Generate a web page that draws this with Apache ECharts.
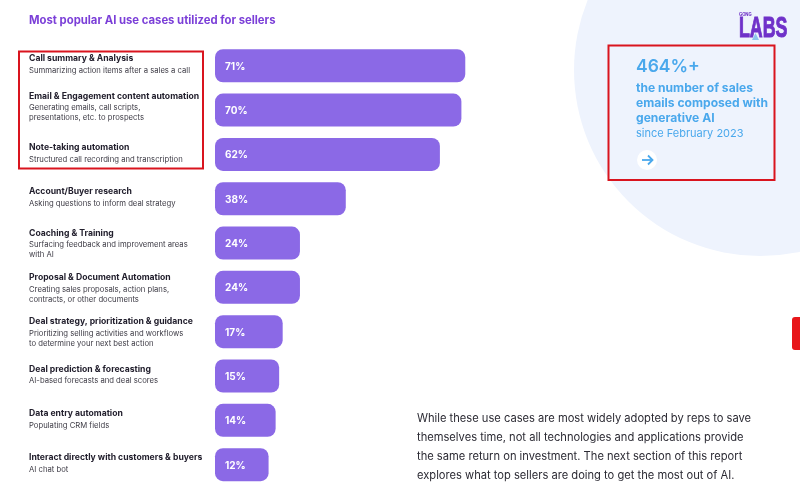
<!DOCTYPE html>
<html>
<head>
<meta charset="utf-8">
<style>html,body{margin:0;padding:0;background:#fff}#c{width:800px;height:492px}</style>
<script src="https://cdn.jsdelivr.net/npm/echarts@6/dist/echarts.min.js"></script>
</head>
<body>
<div id="c"></div>
<script>
const categories = [
  "Call summary & Analysis",
  "Email & Engagement content automation",
  "Note-taking automation",
  "Account/Buyer research",
  "Coaching & Training",
  "Proposal & Document Automation",
  "Deal strategy, prioritization & guidance",
  "Deal prediction & forecasting",
  "Data entry automation",
  "Interact directly with customers & buyers"
];
const descriptions = [
  ["Summarizing action items after a sales a call"],
  ["Generating emails, call scripts,", "presentations, etc. to prospects"],
  ["Structured call recording and transcription"],
  ["Asking questions to inform deal strategy"],
  ["Surfacing feedback and improvement areas", "with AI"],
  ["Creating sales proposals, action plans,", "contracts, or other documents"],
  ["Prioritizing selling activities and workflows", "to determine your next best action"],
  ["AI-based forecasts and deal scores"],
  ["Populating CRM fields"],
  ["AI chat bot"]
];
// The percentages printed on the bars.
const printedPercent = [71, 70, 62, 38, 24, 24, 17, 15, 14, 12];
// The lengths the bars have in the picture, on the same scale. The source
// graphic does not draw its short bars in proportion to their printed figures.
const drawnLength = [71, 69.9, 63.8, 37.1, 24.1, 24.1, 19.2, 18.2, 17.2, 15.2];
const titleText = "Most popular AI use cases utilized for sellers";
const calloutHead = "464%+";
const calloutBold = ["the number of sales", "emails composed with", "generative AI"];
const calloutTail = "since February 2023";
const bodyLines = [
  "While these use cases are most widely adopted by reps to save",
  "themselves time, not all technologies and applications provide",
  "the same return on investment. The next section of this report",
  "explores what top sellers are doing to get the most out of AI."
];

const FONT = "Inter";
const BLUE = "#4aa8ec";
const RED = "#d9141e";
const chart = echarts.init(document.getElementById("c"), null, {renderer: "canvas"});

const txt = (x, y, text, size, weight, fill, extra) => Object.assign({
  type: "text", x, y, z: 5,
  style: {text, fontFamily: FONT, fontSize: size, fontWeight: weight, fill, verticalAlign: "middle"}
}, extra || {});

chart.setOption({
  animation: false,
  backgroundColor: "#fff",
  title: {
    text: titleText, left: 24, top: 10,
    textStyle: {fontFamily: FONT, fontSize: 11.3, fontWeight: 700, color: "#7b3fd8"}
  },
  grid: {left: 215, top: 43.6, width: 352.5, height: 443.2},
  xAxis: {type: "value", min: 0, max: 100, show: false},
  yAxis: {
    type: "category", inverse: true, data: categories,
    axisLine: {show: false}, axisTick: {show: false},
    axisLabel: {
      align: "left", margin: 186, interval: 0,
      formatter: (name, i) => {
        const lines = ["{n|" + name + "}"].concat(descriptions[i].map(l => "{d|" + l + "}"));
        if (i === 1) lines.push("{s8| }");
        else if (descriptions[i].length === 1) lines.push("{s4| }");
        return lines.join("\n");
      },
      rich: {
        n: {fontFamily: FONT, fontSize: 8.65, fontWeight: 700, color: "#23202e", lineHeight: 14, align: "left"},
        d: {fontFamily: FONT, fontSize: 7.7, fontWeight: 400, color: "#3d3b45", lineHeight: 10, align: "left"},
        s4: {fontSize: 1, lineHeight: 4},
        s8: {fontSize: 1, lineHeight: 8}
      }
    }
  },
  series: [{
    type: "bar", data: drawnLength, barWidth: 33,
    itemStyle: {color: "#8b69e6", borderRadius: 8},
    label: {
      show: true, position: "insideLeft", distance: 10, offset: [0, 1],
      formatter: p => printedPercent[p.dataIndex] + "%",
      fontFamily: FONT, fontSize: 10, fontWeight: 700, color: "#fff"
    }
  }],
  graphic: [
    {type: "circle", shape: {cx: 760, cy: 70, r: 186}, style: {fill: "#eef3fd"}, z: 0},
    {type: "rect", shape: {x: 19, y: 51.5, width: 184, height: 117}, style: {fill: "none", stroke: RED, lineWidth: 2}, z: 6},
    {type: "rect", shape: {x: 608.5, y: 45.5, width: 166, height: 134.5}, style: {fill: "none", stroke: RED, lineWidth: 2}, z: 6},
    {type: "rect", shape: {x: 792, y: 317, width: 12, height: 33, r: 3}, style: {fill: "#e8161a"}, z: 6},
    txt(636, 67, calloutHead, 17.5, 600, BLUE),
    txt(636, 88, calloutBold[0], 12.1, 700, BLUE),
    txt(636, 103, calloutBold[1], 12.1, 700, BLUE),
    txt(636, 118.5, calloutBold[2], 12.1, 700, BLUE),
    txt(636, 134, calloutTail, 11, 400, BLUE),
    {type: "circle", shape: {cx: 647, cy: 160, r: 10}, style: {fill: "#fff"}, z: 5},
    {type: "line", shape: {x1: 642, y1: 160, x2: 652, y2: 160}, style: {stroke: BLUE, lineWidth: 1.8}, z: 6},
    {type: "polyline", shape: {points: [[648, 155.5], [652.5, 160], [648, 164.5]]}, style: {stroke: BLUE, lineWidth: 1.8, fill: "none"}, z: 6},
    txt(739, 15, "GONG", 4.2, 700, "#6a2bc4"),
    {type: "text", x: 739, y: 29.5, z: 5, scaleX: 0.89, scaleY: 1.45,
     style: {text: "LABS", fontFamily: "Liberation Sans", fontSize: 20, fontWeight: 700, fill: "#6f31c9", stroke: "#6f31c9", lineWidth: 0.7, verticalAlign: "middle"}},
    {type: "polygon", shape: {points: [[755.5, 33], [759, 40], [752, 40]]}, style: {fill: "#8ec5ec"}, z: 6},
    txt(417, 419, bodyLines[0], 11.15, 400, "#2b2a33"),
    txt(417, 438, bodyLines[1], 11.15, 400, "#2b2a33"),
    txt(417, 457, bodyLines[2], 11.15, 400, "#2b2a33"),
    txt(417, 476, bodyLines[3], 11.15, 400, "#2b2a33")
  ]
});
</script>
</body>
</html>
